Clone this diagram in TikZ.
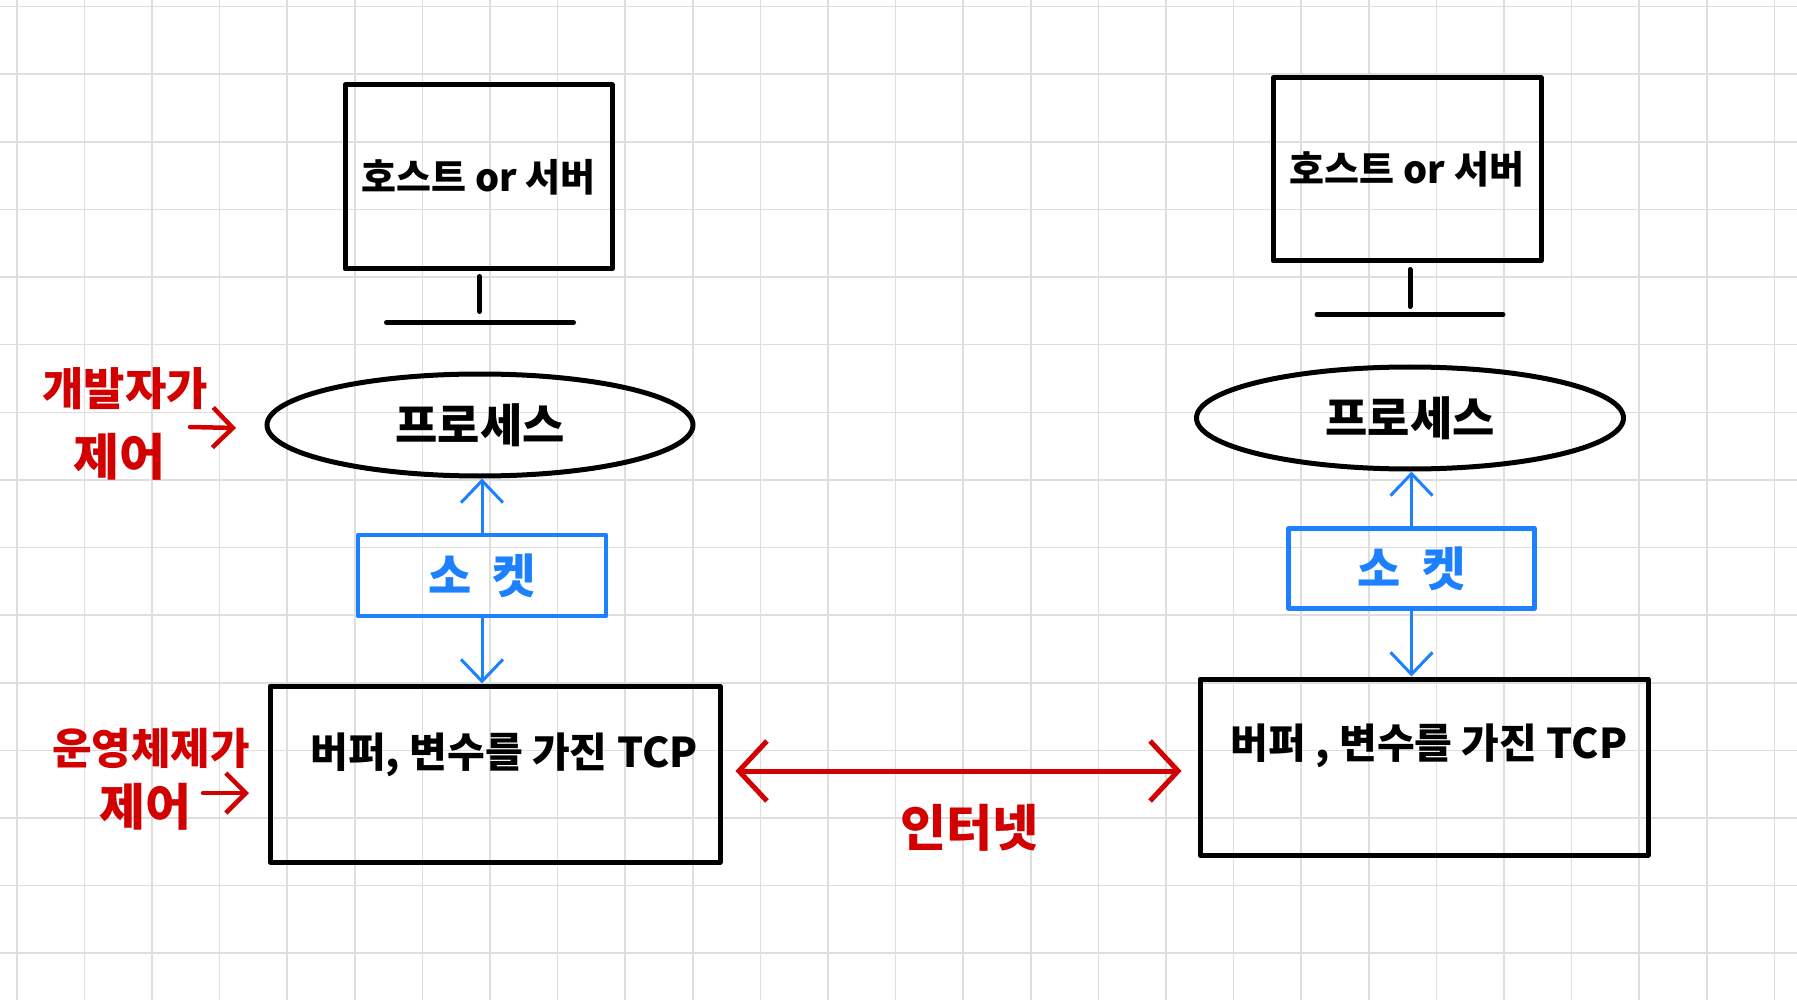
\documentclass[tikz,border=0pt]{standalone}
\usepackage{fontspec}
\setmainfont{Noto Sans CJK KR}
\usetikzlibrary{arrows.meta,shapes.geometric,calc}
\definecolor{gridgray}{RGB}{222,222,222}
\definecolor{sblue}{RGB}{28,128,255}
\definecolor{sred}{RGB}{210,0,0}
\begin{document}
\begin{tikzpicture}[x=1pt,y=-1pt,
  gridline/.style={draw=gridgray,line width=1.6pt},
  blackbox/.style={draw=black,line width=5pt,rectangle,inner sep=0pt,line join=round,
    font=\bfseries\fontsize{38}{44}\selectfont},
  procshape/.style={draw=black,line width=5pt,ellipse,inner sep=0pt,
    font=\bfseries\fontsize{46}{52}\selectfont},
  sockbox/.style={draw=sblue,line width=4.5pt,rectangle,inner sep=0pt,text=sblue,line join=round,
    font=\bfseries\fontsize{47}{52}\selectfont},
  stand/.style={draw=black,line width=5pt,line cap=round},
  bluearrow/.style={draw=sblue,line width=3pt,-{Straight Barb[length=22pt,width=42pt,line width=3pt]}},
  redarrow/.style={draw=sred,line width=5pt,line cap=round,{Straight Barb[length=28pt,width=60pt,line width=5pt]}-{Straight Barb[length=28pt,width=60pt,line width=5pt]}},
  redhook/.style={draw=sred,line width=4.5pt,line cap=round,-{Straight Barb[length=20pt,width=40pt,line width=4.5pt]}},
  tcptext/.style={inner sep=0pt,font=\bfseries\fontsize{41}{46}\selectfont},
  redtext/.style={inner sep=0pt,text=sred,font=\bfseries\fontsize{45}{50}\selectfont},
]
\useasboundingbox (0,0) rectangle (1797,1000);
\fill[white] (0,0) rectangle (1797,1000);
\foreach \i in {0,...,26} \draw[gridline] (16.7+67.6*\i,0) -- (16.7+67.6*\i,1000);
\foreach \j in {0,...,14} \draw[gridline] (0,6.7+67.6*\j) -- (1797,6.7+67.6*\j);

% left host
\node[blackbox,minimum width=267pt,minimum height=184pt] (monL) at (478.5,177) {호스트 or 서버};
\draw[stand] ($(monL.south)+(1,5)$) -- ($(monL.south)+(1,40)$);
\draw[stand] ($(monL.south)+(-92,51)$) -- ($(monL.south)+(95,51)$);
\node[procshape,minimum width=426pt,minimum height=102pt] (procL) at (480,425) {프로세스};
\node[sockbox,minimum width=248pt,minimum height=81pt] (sockL) at (482,575.5) {소\hspace{0.45em}켓};
\node[blackbox,minimum width=450pt,minimum height=176pt] (tcpL) at (495,774) {};
\node[tcptext] (tcpLt) at (504,755) {버퍼, 변수를 가진 TCP};
\draw[bluearrow] (sockL.north) -- (sockL.north |- procL.south);
\draw[bluearrow] (sockL.south) -- (sockL.south |- tcpL.north);

% right host
\node[blackbox,minimum width=268pt,minimum height=183pt] (monR) at (1407,169.5) {호스트 or 서버};
\draw[stand] ($(monR.south)+(3,6)$) -- ($(monR.south)+(3,43)$);
\draw[stand] ($(monR.south)+(-90,51)$) -- ($(monR.south)+(96,51)$);
\node[procshape,minimum width=427pt,minimum height=102pt] (procR) at (1410,418) {프로세스};
\node[sockbox,minimum width=246pt,minimum height=80pt] (sockR) at (1411.5,568.5) {소\hspace{0.45em}켓};
\node[blackbox,minimum width=448pt,minimum height=176pt] (tcpR) at (1424,767) {};
\node[tcptext] (tcpRt) at (1429,746) {버퍼 , 변수를 가진 TCP};
\draw[bluearrow] (sockR.north) -- (sockR.north |- procR.south);
\draw[bluearrow] (sockR.south) -- (sockR.south |- tcpR.north);

% internet
\draw[redarrow] ($(tcpL.east)+(13,-3)$) -- ($(tcpR.west)+(-16,4)$);
\node[redtext,font=\bfseries\fontsize{50}{56}\selectfont] (inet) at (969,828) {인터넷};

% left annotations
\node[redtext] (devA) at (125,389) {개발자가};
\node[redtext,font=\bfseries\fontsize{50}{56}\selectfont] (devB) at (119,457) {제어};
\coordinate (devArr) at (190,427);
\draw[redhook] (devArr) -- ++(46,1);
\node[redtext,font=\bfseries\fontsize{43}{48}\selectfont] (osA) at (151,748) {운영체제가};
\node[redtext,font=\bfseries\fontsize{50}{56}\selectfont] (osB) at (145,807) {제어};
\coordinate (osArr) at (203,793);
\draw[redhook] (osArr) -- ++(46,0);
\end{tikzpicture}
\end{document}
